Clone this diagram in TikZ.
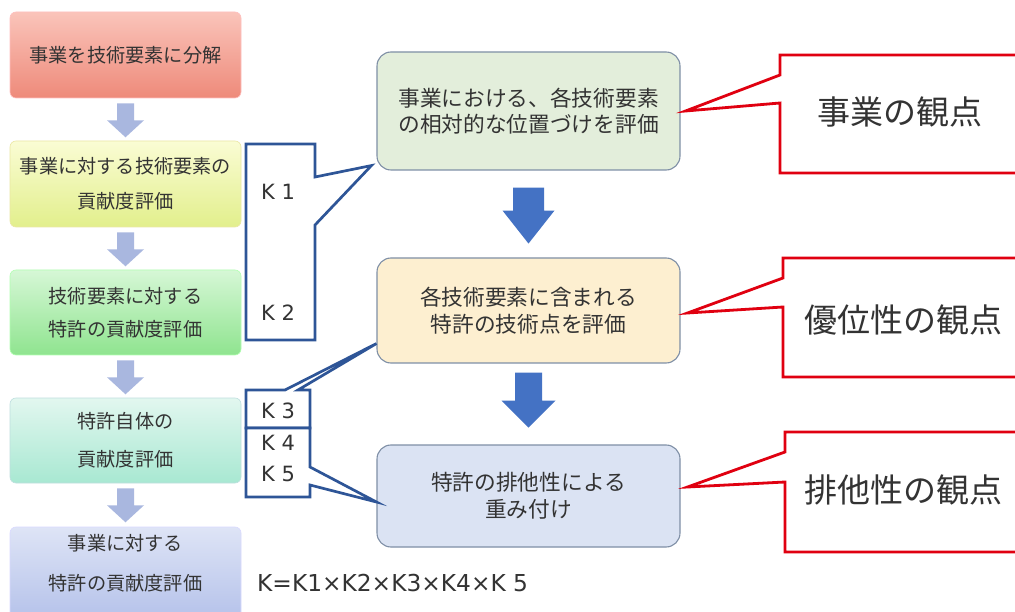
\documentclass[tikz,border=0pt]{standalone}
\usepackage{fontspec}
\setmainfont{Noto Sans CJK JP}
\newfontfamily\latinfont{DejaVu Sans}
\usetikzlibrary{calc}
\definecolor{txt}{HTML}{333333}
\definecolor{kblue}{HTML}{2E5597}
\definecolor{abig}{HTML}{4472C4}
\definecolor{asmall}{HTML}{A9B7DF}
\definecolor{cborder}{HTML}{7F8FA6}
\definecolor{rred}{HTML}{E00010}
\begin{document}
\begin{tikzpicture}[x=1pt,y=-1pt,
  lbox/.style={rounded corners=6pt, draw=#1, line width=0.6pt, minimum width=231pt, inner sep=0pt, align=center, text=txt},
  cbox/.style={rounded corners=14pt, draw=cborder, line width=1.1pt, minimum width=303pt, inner sep=0pt, align=center, text=txt, font=\fontsize{21.7}{26.5}\selectfont},
  ltext/.style={font=\fontsize{19.2}{34}\selectfont},
  klab/.style={anchor=west, text=txt, font=\latinfont\fontsize{21}{24}\selectfont, inner sep=0pt},
  kline/.style={draw=kblue, line width=2.7pt, fill=white, line join=miter},
  rline/.style={draw=rred, line width=2.8pt, fill=white, line join=miter},
  rtext/.style={text=txt, font=\fontsize{33}{36}\selectfont, inner sep=0pt}
]
\useasboundingbox (0,0) rectangle (1015,612);
\clip (0,0) rectangle (1015,612);
\fill[white] (0,0) rectangle (1015,612);

% left column boxes
\node[lbox=red!25, top color={rgb,255:red,250;green,196;blue,186}, bottom color={rgb,255:red,238;green,138;blue,122}, minimum height=86pt, ltext] (b1) at (125.5,55) {事業を技術要素に分解};
\node[lbox=yellow!40!olive!30, top color={rgb,255:red,250;green,252;blue,212}, bottom color={rgb,255:red,226;green,239;blue,140}, minimum height=86pt, font=\fontsize{19.2}{35}\selectfont] (b2) at (125.5,184) {事業に対する技術要素の\\貢献度評価};
\node[lbox=green!30, top color={rgb,255:red,214;green,247;blue,214}, bottom color={rgb,255:red,143;green,228;blue,143}, minimum height=85pt, font=\fontsize{19.2}{33}\selectfont] (b3) at (125.5,312.5) {技術要素に対する\\特許の貢献度評価};
\node[lbox=teal!25, top color={rgb,255:red,226;green,247;blue,239}, bottom color={rgb,255:red,168;green,232;blue,210}, minimum height=85pt, font=\fontsize{19.2}{38}\selectfont] (b4) at (125.5,440.5) {特許自体の\\貢献度評価};
\node[lbox=blue!15, top color={rgb,255:red,222;green,228;blue,246}, bottom color={rgb,255:red,181;green,194;blue,234}, minimum height=92pt, font=\fontsize{19.2}{40}\selectfont] (b5) at (125.5,573) {};
\node[text=txt, font=\fontsize{19.2}{40}\selectfont, align=center] (b5t) at (125.5,563) {事業に対する\\特許の貢献度評価};

% small arrows
\foreach \a in {b1,b2,b3,b4}{
  \fill[asmall] ($(\a.south)+(-8.5,5)$) -- ($(\a.south)+(8.5,5)$) -- ($(\a.south)+(8.5,22)$) -- ($(\a.south)+(18.5,22)$) -- ($(\a.south)+(0,39)$) -- ($(\a.south)+(-18.5,22)$) -- ($(\a.south)+(-8.5,22)$) -- cycle;
}

% center boxes
\node[cbox, fill={rgb,255:red,227;green,238;blue,219}, minimum height=118pt] (c1) at (528.5,111) {事業における、各技術要素\\の相対的な位置づけを評価};
\node[cbox, fill={rgb,255:red,253;green,239;blue,208}, minimum height=105pt] (c2) at (528.5,310.5) {各技術要素に含まれる\\特許の技術点を評価};
\node[cbox, fill={rgb,255:red,219;green,227;blue,243}, minimum height=102pt] (c3) at (528.5,496) {特許の排他性による\\重み付け};

% big arrows
\fill[abig] ($(c1.south)+(-15.5,17)$) -- ($(c1.south)+(15.5,17)$) -- ($(c1.south)+(15.5,40)$) -- ($(c1.south)+(26,40)$) -- ($(c1.south)+(0,73)$) -- ($(c1.south)+(-26,40)$) -- ($(c1.south)+(-15.5,40)$) -- cycle;
\fill[abig] ($(c2.south)+(-13.5,9)$) -- ($(c2.south)+(13.5,9)$) -- ($(c2.south)+(13.5,37)$) -- ($(c2.south)+(27,37)$) -- ($(c2.south)+(0,64)$) -- ($(c2.south)+(-27,37)$) -- ($(c2.south)+(-13.5,37)$) -- cycle;

% K brackets
\coordinate (t1) at ($(c1.south west)+(-5,-5)$);
\draw[kline] (246,144) -- (315,144) -- (315,177) -- (t1) -- (315,225) -- (315,340) -- (246,340) -- cycle;
\coordinate (t3) at ($(c2.south west)+(0,-20)$);
\draw[kline] (246,390) -- (285,390) -- (t3) -- (298,390) -- (310,390) -- (310,428) -- (246,428) -- cycle;
\coordinate (t4) at ($(c3.west)+(0,6)$);
\draw[kline] (246,428) -- (310,428) -- (310,467) -- (t4) -- (310,485) -- (310,497) -- (246,497) -- cycle;

\node[klab] (k1) at (261,192) {K 1};
\node[klab] (k2) at (261,313) {K 2};
\node[klab] (k3) at (261,411) {K 3};
\node[klab] (k4) at (261,443) {K 4};
\node[klab] (k5) at (261,474) {K 5};

\node[anchor=west, text=txt, font=\latinfont\fontsize{23.3}{24}\selectfont, inner sep=0pt] (kf) at (257,583) {K=K1×K2×K3×K4×K 5};

% red callouts
\coordinate (r1t) at ($(c1.east)+(5,0)$);
\draw[rline] (780,75) -- (780,55) -- (1030,55) -- (1030,173) -- (780,173) -- (780,103) -- (r1t) -- cycle;
\coordinate (r2t) at ($(c2.east)+(7,2.5)$);
\draw[rline] (783,278) -- (783,258) -- (1030,258) -- (1030,377) -- (783,377) -- (783,307) -- (r2t) -- cycle;
\coordinate (r3t) at ($(c3.east)+(7,-9)$);
\draw[rline] (785,452) -- (785,432) -- (1030,432) -- (1030,552) -- (785,552) -- (785,482) -- (r3t) -- cycle;

\node[rtext] (r1) at (900,112) {事業の観点};
\node[rtext] (r2) at (903,320) {優位性の観点};
\node[rtext] (r3) at (903,490) {排他性の観点};
\end{tikzpicture}
\end{document}
